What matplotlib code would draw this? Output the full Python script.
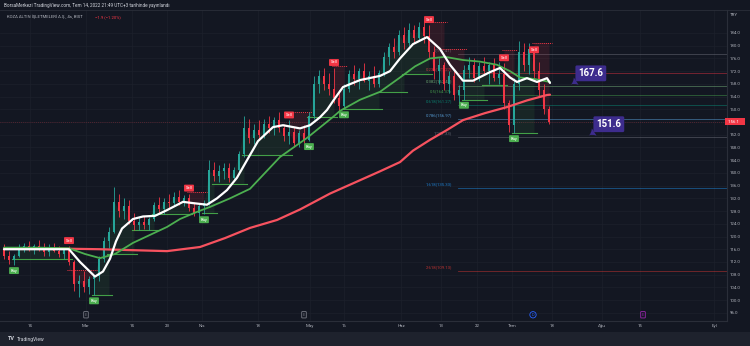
import matplotlib; matplotlib.use("Agg")
import matplotlib.pyplot as plt
from matplotlib.patches import Rectangle

plt.rcParams['font.family'] = ['Roboto', 'DejaVu Sans']

# --- 4s mumlar (grafikten okunan yaklaşık değerler) ---
op = [116, 114, 112.5, 114, 116.5, 117, 116, 117, 116, 115, 116.5, 115.5, 114.5, 116, 112, 105, 106, 104, 106.5, 107.5,
      113, 118.5, 121.5, 131, 128, 129.5, 125, 123.5, 124.5, 123.5, 125.5, 130, 128.5, 131, 130.5, 132.5, 131, 132, 129, 127.5,
      129.5, 130.5, 141, 139, 140.5, 141.5, 138.5, 141, 146, 154, 151, 153.5, 152, 155.5, 154, 156.5, 154, 151.5, 153, 149.5,
      152.5, 150.5, 158, 168, 170.5, 168, 166.5, 163.5, 161, 166.5, 171, 169.5, 172, 169, 170.5, 168, 171.5, 176.5, 179.5, 178,
      183.5, 181, 185, 182.5, 186, 183, 178, 172, 174, 168, 170.5, 164.5, 166, 172.5, 174, 170, 173.5, 172, 174, 170,
      171, 162, 155, 168, 178, 174, 179, 172, 166, 160]
hi = [117.5, 115.5, 114.5, 117.5, 118, 118.5, 117.5, 119, 118, 117.5, 118, 117, 116.5, 117, 112.5, 108, 109, 107.5, 108, 114,
      120, 123, 135.5, 133.5, 132, 131.5, 127.5, 126, 126.5, 126, 131, 132.5, 132, 133.5, 134, 134.5, 133, 133.5, 131, 130.5,
      131.5, 144, 143.5, 142.5, 143, 143, 142, 147, 158, 157, 155.5, 156.5, 157, 158, 157.5, 159, 155.5, 156.5, 154.5, 153.5,
      155, 159, 170.5, 172.5, 173, 171.5, 173, 166, 168, 172.5, 174, 173, 174.5, 172, 173.5, 172.5, 178, 181, 182.5, 185,
      186, 187, 186.5, 187.5, 188, 186.5, 180, 176, 175, 172, 172, 167.5, 174, 176.5, 176, 175, 176.5, 175, 176, 175,
      174.5, 163, 170, 181.5, 181, 181, 177, 175, 168, 161]
lo = [113, 111.5, 111, 113.5, 115, 115.5, 114.5, 115.5, 114, 114, 115, 113.5, 113, 111, 103, 101, 102.5, 102, 101.5, 106,
      112, 116.5, 121, 126, 125.5, 124, 122, 122, 122.5, 122, 125, 127.5, 127, 129, 129.5, 130, 129.5, 128, 126.5, 126,
      127, 130, 137.5, 137, 138, 137, 137.5, 140, 145, 149.5, 149, 150.5, 151, 152.5, 152, 153, 150, 149, 148, 148,
      149.5, 150, 157, 165, 166, 164.5, 162, 159.5, 160, 165.5, 167.5, 166.5, 168.5, 166, 167, 167, 170.5, 174, 176, 177,
      179, 180, 181, 181.5, 181, 176, 169.5, 168, 166, 165, 163, 162, 163, 170, 168.5, 169, 171, 168, 169, 168,
      160, 153, 152.5, 166, 172, 171, 170, 164, 158.5, 155.5]
cl = [114, 112.5, 114, 116.5, 117, 116, 117, 116, 115, 116.5, 115.5, 114.5, 116, 112, 105, 106, 104, 106.5, 107.5, 113,
      118.5, 121.5, 131, 128, 129.5, 125, 123.5, 124.5, 123.5, 125.5, 130, 128.5, 131, 130.5, 132.5, 131, 132, 129, 127.5, 129.5,
      130.5, 141, 139, 140.5, 141.5, 138.5, 141, 146, 154, 151, 153.5, 152, 155.5, 154, 156.5, 154, 151.5, 153, 149.5, 152.5,
      150.5, 158, 168, 170.5, 168, 166.5, 163.5, 161, 166.5, 171, 169.5, 172, 169, 170.5, 168, 171.5, 176.5, 179.5, 178, 183.5,
      181, 185, 182.5, 186, 183, 178, 172, 174, 168, 170.5, 164.5, 166, 172.5, 174, 170, 173.5, 172, 174, 170, 171,
      162, 155, 168, 178, 174, 179, 172, 166, 160, 156.1]

# hareketli ortalamalar (çubuk no, değer)
wma_x = [0, 7.2, 13, 15.2, 18.2, 19.8, 21.2, 22.4, 23.6, 25.8, 27.8, 30.2, 32.6, 35.8, 37.8, 40.6, 42.6, 44.6, 46.6, 48.6,
         50.8, 53.8, 55.8, 59.2, 61.2, 63.2, 64.6, 66.2, 67.8, 71.2, 75.2, 77.2, 79.2, 81.8, 84.6, 87.2, 89.2, 91.8, 93.8,
         97.2, 99.2, 101.2, 102.6, 104.6, 106.6, 108.6, 109.2]
wma_y = [116, 116, 116, 112, 107.4, 109, 113, 118.5, 122.5, 125.5, 126.3, 126.5, 128.3, 130.9, 130.5, 130, 132, 134.6, 138.5, 144,
         150, 154.4, 155, 154, 155, 157.5, 159.8, 163.5, 167, 169.2, 170.5, 172, 176, 180.5, 182.7, 179, 174, 169, 169,
         171.7, 173, 170, 168.6, 169.8, 168.6, 169.8, 168.3]
gma_x = [0, 7.2, 13, 16.2, 19.2, 22.2, 25.8, 29.2, 32.6, 35.2, 38.2, 41.2, 45.2, 49.2, 52.2, 55.2, 60.6, 65.8, 67.2, 71.2,
         75.2, 79.2, 82.2, 85.2, 88.2, 91.8, 95.2, 98.6, 101.2, 103.2, 106.2, 109.2]
gma_y = [116.5, 116.5, 116.3, 114.5, 113.2, 114.5, 118, 120.5, 123, 125.5, 127.5, 129.3, 132, 135, 140, 145, 151, 157.6, 159.5, 163,
         165.5, 170, 173.5, 176, 176.5, 175.5, 175, 174, 172, 170, 169.5, 168.6]
rma_x = [0, 11.2, 19.2, 25.8, 32.6, 39.2, 44.2, 49.2, 54.6, 59.2, 65.2, 70.2, 75.2, 79.2, 81.8, 85.2, 88.6, 91.8, 96.2, 100.6,
         104.6, 108.6, 109.2]
rma_y = [116.3, 116.2, 116, 115.7, 115.4, 116.7, 119.5, 122.7, 125.2, 128.5, 133.5, 137, 140.5, 143.4, 147, 150.4, 153.5, 156.6,
         158.8, 160.7, 162.8, 164.5, 164.6]

# iz süren stop (başlangıç, bitiş, seviye)
long_seg = [(2, 13, 113.0), (18, 21, 101.5), (21, 26, 114.5), (26, 30, 122.0), (30, 37, 127.0), (40, 42, 127.5),
            (42, 48, 136.5), (48, 57, 145.5), (61, 66, 157.5), (68, 75, 160.0), (75, 80, 165.5), (80, 85, 171.0),
            (92, 96, 163.0), (96, 100, 167.5), (102, 106, 152.5)]
short_seg = [(13, 18, 109.5), (37, 40, 134.0), (57, 61, 159.0), (66, 68, 173.5), (85, 88, 187.5), (88, 92, 179.0),
             (100, 102, 178.5), (106, 109, 181.0)]
buy_idx = [2, 18, 40, 61, 68, 92, 102]
sell_idx = [13, 37, 57, 66, 85, 100, 106]

fib_ratio = ["0", "0.236", "0.382", "0.5", "0.618", "0.786", "1", "1.618", "2.618"]
fib_val = [177.41, 171.27, 167.47, 164.37, 161.27, 156.97, 151.33, 135.33, 109.13]
fib_col = ["#787b86", "#f23645", "#81c784", "#4caf50", "#089981", "#64b5f6", "#787b86", "#2196f3", "#e53935"]
fib_start = 90.8

callout_x = [113.2, 116.8]
callout_y = [167.6, 151.6]
last_price = 156.1

tick_pos = [5.2, 16.4, 25.6, 32.6, 39.6, 50.8, 61.2, 68, 79.4, 87.4, 94.6, 101.6, 109.6, 119.6, 127.2, 142]
tick_lab = ["14", "Mar", "14", "23", "Nis", "18", "May", "16", "Haz", "13", "22", "Tem", "18", "Ağu", "15", "Eyl"]
price_ticks = list(range(96, 188, 4))

ev_x = [16.4, 60, 105.8, 127.8]
ev_lab = ["E", "E", "D", "E"]
ev_col = ["#787b86", "#787b86", "#2962ff", "#9c27b0"]

BG = "#131722"; UP = "#26a69a"; DN = "#f23645"; TXT = "#b2b5be"; MOR = "#3d2c8d"

fig = plt.figure(figsize=(7.5, 3.46), dpi=100, facecolor=BG)
ax = fig.add_axes([0, 25/346, 727/750, 311/346], facecolor=BG)
ax.set_xlim(-0.8, 144.6)
ax.set_ylim(93.43, 191.23)

for s in ["top", "left"]:
    ax.spines[s].set_visible(False)
for s in ["right", "bottom"]:
    ax.spines[s].set_color("#2a2e39"); ax.spines[s].set_linewidth(0.8)

ax.set_xticks(tick_pos); ax.set_xticklabels(tick_lab)
ax.yaxis.tick_right()
ax.set_yticks(price_ticks)
# son fiyat etiketi altında kalan değer gösterilmez
ax.set_yticklabels(["" if abs(v - last_price) < 2 else f"{v:.1f}" for v in price_ticks])
ax.tick_params(axis="both", length=0, labelsize=3.2, labelcolor=TXT)
ax.tick_params(axis="y", pad=2.2); ax.tick_params(axis="x", pad=2)
ax.grid(True, color="#1c202c", lw=0.5)
ax.set_axisbelow(True)

# fib seviyeleri
for r, v, col in zip(fib_ratio, fib_val, fib_col):
    ax.plot([fib_start, 144.6], [v, v], color=col, lw=0.6, alpha=0.5, zorder=1)
    ax.text(fib_start - 1.2, v + 0.6, f"{r}({v:.2f})", color=col, fontsize=3.1, ha="right", va="bottom",
            alpha=0.8, zorder=1)

# son fiyat çizgisi
ax.axhline(last_price, color=DN, lw=0.5, ls=(0, (1, 2)), alpha=0.5, zorder=1)

# stop bantları
xs = list(range(len(cl)))
for s, e, lev in long_seg:
    ax.fill_between(xs[s:e+1], lev, cl[s:e+1], color="#4caf50", alpha=0.10, lw=0, zorder=1.5)
    ax.plot([s - 0.5, e + 0.5], [lev, lev], color="#43a047", lw=0.8, zorder=2)
for s, e, lev in short_seg:
    ax.fill_between(xs[s:e+1], lev, cl[s:e+1], color="#f23645", alpha=0.12, lw=0, zorder=1.5)
    ax.plot([s - 0.5, e + 0.5], [lev, lev], color="#f23645", lw=0.7, ls=(0, (1, 1)), zorder=2)

# mumlar
cols = [UP if c >= o else DN for o, c in zip(op, cl)]
ax.vlines(xs, lo, hi, colors=cols, lw=0.6, zorder=3)
ax.bar(xs, [max(abs(c - o), 0.3) for o, c in zip(op, cl)], bottom=[min(o, c) for o, c in zip(op, cl)],
       width=0.55, color=cols, lw=0, zorder=3)

# ortalamalar
ax.plot(rma_x, rma_y, color="#f7525f", lw=1.6, zorder=4, solid_capstyle="round")
ax.plot(gma_x, gma_y, color="#4caf50", lw=1.3, zorder=4, solid_capstyle="round")
ax.plot(wma_x, wma_y, color="#ffffff", lw=1.6, zorder=5, solid_capstyle="round")

# al / sat etiketleri
for i in buy_idx:
    ax.annotate("Buy", xy=(i, lo[i]), xytext=(0, -2.5), textcoords="offset points", ha="center", va="top",
                fontsize=3, color="white", zorder=6,
                bbox=dict(boxstyle="round,pad=0.35,rounding_size=0.2", fc="#4caf50", ec="none"))
for i in sell_idx:
    ax.annotate("Sell", xy=(i, hi[i]), xytext=(0, 2.5), textcoords="offset points", ha="center", va="bottom",
                fontsize=3, color="white", zorder=6,
                bbox=dict(boxstyle="round,pad=0.35,rounding_size=0.2", fc="#f23645", ec="none"))

# fiyat notları (kuyruk kutunun sol alt köşesinden)
for x, y in zip(callout_x, callout_y):
    ax.annotate(f"{y:.1f}", xy=(x, y), xytext=(6, 8.5), textcoords="offset points", ha="left", va="center",
                fontsize=7, fontweight="bold", color="white", zorder=7,
                bbox=dict(boxstyle="round,pad=0.3,rounding_size=0.15", fc=MOR, ec="none"),
                arrowprops=dict(arrowstyle="wedge,tail_width=0.9,shrink_factor=0.2", fc=MOR, ec="none",
                                shrinkA=0, shrinkB=0, relpos=(0.12, 0.05)))

# son fiyat etiketi
ytr = ax.get_yaxis_transform()
ax.text(1.0, last_price, f" {last_price:.1f}    ", transform=ytr, ha="left", va="center", fontsize=3.2,
        color="white", clip_on=False, zorder=8,
        bbox=dict(boxstyle="square,pad=0.35", fc="#f23645", ec="none"))

# olay işaretleri
xtr = ax.get_xaxis_transform()
for x, lab, col in zip(ev_x, ev_lab, ev_col):
    bs = "circle,pad=0.3" if lab == "D" else "round,pad=0.3,rounding_size=0.15"
    ax.text(x, 0.02, lab, transform=xtr, ha="center", va="center", fontsize=2.8, color=col,
            bbox=dict(boxstyle=bs, fc=BG, ec=col, lw=0.6), zorder=6)

# üst bilgi ve alt şerit
fig.patches.append(Rectangle((0, 0), 1, 14/346, transform=fig.transFigure, fc="#1e222d", ec="none", zorder=0))
fig.lines.append(plt.Line2D([0, 1], [1 - 10/346, 1 - 10/346], transform=fig.transFigure, color="#2a2e39", lw=0.6))
fig.text(4/750, 1 - 5/346, "BorsaMerkezi TradingView.com, Tem 14, 2022 21:49 UTC+3 tarihinde yayınlandı",
         fontsize=3.3, color="#d1d4dc", va="center", ha="left")
fig.text(7/750, 1 - 17/346, "KOZA ALTIN İŞLETMELERİ A.Ş., 4s, BIST  ", fontsize=3.1, color=TXT,
         va="center", ha="left")
fig.text(95/750, 1 - 17/346, "−1.9 (−1.20%)", fontsize=3.1, color=DN, va="center", ha="left")
fig.text(730/750, 1 - 15/346, "TRY", fontsize=3.2, color=TXT, va="center", ha="left")
fig.text(8/750, 7/346, "TV", fontsize=4, fontweight="bold", color="#d1d4dc", va="center", ha="left")
fig.text(17/750, 7/346, "TradingView", fontsize=3.6, color="#d1d4dc", va="center", ha="left")

fig.savefig("out.png", dpi=100, facecolor=BG)
